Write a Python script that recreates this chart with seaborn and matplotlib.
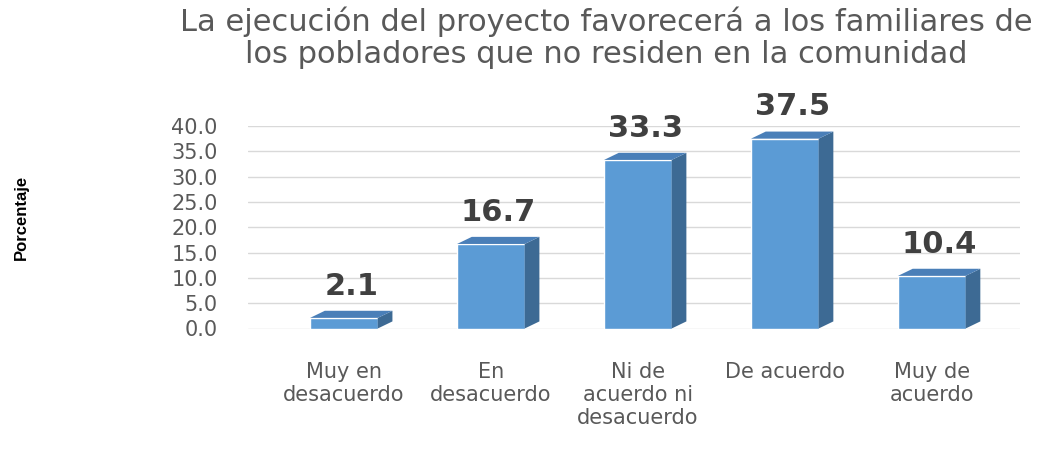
import numpy as np
import pandas as pd
import seaborn as sns
import matplotlib.pyplot as plt
from matplotlib.patches import Polygon

categorias = ["Muy en\ndesacuerdo", "En\ndesacuerdo", "Ni de\nacuerdo ni\ndesacuerdo",
              "De acuerdo", "Muy de\nacuerdo"]
porcentajes = [2.1, 16.7, 33.3, 37.5, 10.4]
ticks_y = [0, 5, 10, 15, 20, 25, 30, 35, 40]

titulo = ("La ejecución del proyecto favorecerá a los familiares de\n"
          "los pobladores que no residen en la comunidad")

df = pd.DataFrame({"categoria": categorias, "porcentaje": porcentajes})

sns.set_theme(style="white")
plt.rcParams["font.family"] = ["DejaVu Sans"]

front = "#5b9bd5"
side = "#3d6a94"
top = "#4a7fb8"
gris = "#595959"

fig, ax = plt.subplots(figsize=(10.57, 4.5), dpi=100)
fig.subplots_adjust(left=0.235, right=0.965, top=0.72, bottom=0.27)

sns.barplot(data=df, x="categoria", y="porcentaje", color=front,
            saturation=1, width=0.46, ax=ax, zorder=3)

# fake 3D: side and top faces from each bar's geometry
dx, dy = 0.1, 1.4
for p in ax.patches:
    x0, w, h = p.get_x(), p.get_width(), p.get_height()
    x1 = x0 + w
    ax.add_patch(Polygon([(x1, 0), (x1 + dx, dy), (x1 + dx, h + dy), (x1, h)],
                         closed=True, facecolor=side, edgecolor="none", zorder=3))
    ax.add_patch(Polygon([(x0, h), (x0 + dx, h + dy), (x1 + dx, h + dy), (x1, h)],
                         closed=True, facecolor=top, edgecolor="none", zorder=3))
    ax.text(x0 + w / 2 + dx / 2, h + dy + 2.0, f"{h:.1f}", ha="center", va="bottom",
            fontsize=22, fontweight="bold", color="#404040", zorder=4)

ax.set_ylim(0, 40)
ax.set_xlim(-0.65, 4.6)
ax.set_yticks(ticks_y)
ax.set_yticklabels([f"{t:.1f}" for t in ticks_y])
ax.yaxis.grid(True, color="#d9d9d9", linewidth=1)
ax.set_axisbelow(True)
for s in ax.spines.values():
    s.set_visible(False)
ax.tick_params(axis="y", colors=gris, labelsize=15, length=0, pad=22)
ax.tick_params(axis="x", colors=gris, labelsize=15, length=0, pad=24)
ax.set_xlabel("")
ax.set_ylabel("Porcentaje", fontsize=12, fontweight="bold", color="black",
              family="Liberation Sans")
ax.yaxis.set_label_coords(-0.285, 0.55)

fig.suptitle(titulo, fontsize=22, color=gris,
             x=0.574, y=0.985, linespacing=1.1)

plt.savefig("out.png", dpi=100)
plt.close()
